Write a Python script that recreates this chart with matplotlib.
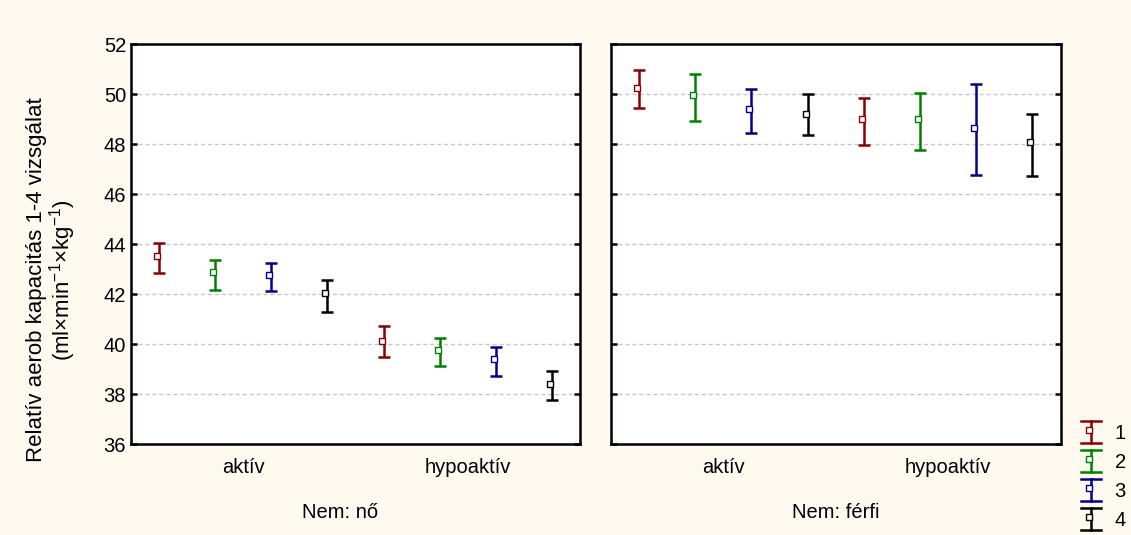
import matplotlib
matplotlib.use("Agg")
import matplotlib.pyplot as plt
from matplotlib.legend_handler import HandlerBase
from matplotlib.lines import Line2D
from matplotlib.transforms import ScaledTranslation

# ---- data ----
groups = ["aktív", "hypoaktív"]
series = ["1", "2", "3", "4"]
colors = ["#8B0000", "#008000", "#00008B", "#000000"]

no_aktiv_mean = [43.51, 42.87, 42.78, 42.05]
no_aktiv_low = [42.83, 42.17, 42.13, 41.29]
no_aktiv_high = [44.05, 43.35, 43.24, 42.55]
no_hypo_mean = [40.13, 39.76, 39.38, 38.42]
no_hypo_low = [39.50, 39.12, 38.73, 37.78]
no_hypo_high = [40.70, 40.26, 39.89, 38.91]

ferfi_aktiv_mean = [50.24, 49.96, 49.39, 49.20]
ferfi_aktiv_low = [49.45, 48.93, 48.44, 48.35]
ferfi_aktiv_high = [50.95, 50.80, 50.20, 50.00]
ferfi_hypo_mean = [49.00, 49.00, 48.63, 48.07]
ferfi_hypo_low = [47.96, 47.75, 46.75, 46.73]
ferfi_hypo_high = [49.83, 50.04, 50.40, 49.19]

yticks = [36, 38, 40, 42, 44, 46, 48, 50, 52]
panel_titles = ["Nem: nő", "Nem: férfi"]
ylabel = "Relatív aerob kapacitás 1-4 vizsgálat\n(ml×min$^{-1}$×kg$^{-1}$)"

plt.rcParams['font.family'] = ['Liberation Sans', 'DejaVu Sans']
plt.rcParams['mathtext.fontset'] = 'custom'
plt.rcParams['mathtext.rm'] = 'Liberation Sans'
plt.rcParams['mathtext.it'] = 'Liberation Sans'

W, H = 1131, 535
fig = plt.figure(figsize=(W / 100, H / 100), dpi=100)
fig.patch.set_facecolor("#FFFAF0")

ax_l = fig.add_axes([131 / W, 1 - 444 / H, 449 / W, 400 / H])
ax_r = fig.add_axes([611 / W, 1 - 444 / H, 449.5 / W, 400 / H])

panels = [
    (ax_l, [(no_aktiv_mean, no_aktiv_low, no_aktiv_high), (no_hypo_mean, no_hypo_low, no_hypo_high)]),
    (ax_r, [(ferfi_aktiv_mean, ferfi_aktiv_low, ferfi_aktiv_high), (ferfi_hypo_mean, ferfi_hypo_low, ferfi_hypo_high)]),
]
group_centers = [1.5, 5.5]
offsets = [-1.5, -0.5, 0.5, 1.5]
FS = 14.5

shift = ScaledTranslation(-0.02, 0, fig.dpi_scale_trans)
for pi, (ax, data) in enumerate(panels):
    ax.set_facecolor("white")
    for si in range(len(series)):
        xs, ms, lo, hi = [], [], [], []
        for gi in range(len(groups)):
            mean, low, high = data[gi]
            xs.append(group_centers[gi] + offsets[si])
            ms.append(mean[si])
            lo.append(mean[si] - low[si])
            hi.append(high[si] - mean[si])
        ax.errorbar(xs, ms, yerr=[lo, hi], fmt='none',
                    ecolor=colors[si], elinewidth=1.8, capsize=4, capthick=1.8, zorder=3)
        ax.plot(xs, ms, 's', markersize=5, markerfacecolor='white',
                markeredgecolor=colors[si], markeredgewidth=1.0, zorder=4,
                transform=ax.transData + shift)
    ax.set_xlim(-0.5, 7.5)
    ax.set_ylim(36, 52)
    ax.set_yticks(yticks)
    ax.set_xticks(group_centers)
    ax.set_xticklabels(groups, fontsize=FS)
    ax.tick_params(axis='x', length=0, pad=10)
    ax.tick_params(axis='y', direction='in', left=True, right=True, length=4, width=1.8, labelsize=FS)
    for g in yticks[1:-1]:
        ax.axhline(g, color='#c8c8c8', lw=1, ls=(0, (3, 2)), zorder=1)
    for sp in ax.spines.values():
        sp.set_linewidth(1.8)
        sp.set_color('black')
    ax.set_xlabel(panel_titles[pi], fontsize=FS, labelpad=19)

ax_l.xaxis.label.set_x(0.465)
ax_r.tick_params(axis='y', labelleft=False)

fig.text(52 / W, 1 - 280 / H, ylabel, rotation=90, ha='center', va='center',
         fontsize=16, multialignment='center', linespacing=1.0)


class HandlerCI(HandlerBase):
    def create_artists(self, legend, orig_handle, xdescent, ydescent,
                       width, height, fontsize, trans):
        c = orig_handle.get_color()
        cx = width / 2 - xdescent
        cy = height / 2 - ydescent
        half = 8.0
        cap = 7.2
        arts = [
            Line2D([cx, cx], [cy - half, cy + half], color=c, lw=1.8),
            Line2D([cx - cap, cx + cap], [cy - half, cy - half], color=c, lw=1.8),
            Line2D([cx - cap, cx + cap], [cy + half, cy + half], color=c, lw=1.8),
            Line2D([cx - 2], [cy + 1.5], marker='s', markersize=5, markerfacecolor='white',
                   markeredgecolor=c, markeredgewidth=1.0, linestyle='none'),
        ]
        for a in arts:
            a.set_transform(trans)
        return arts


proxies = [Line2D([], [], color=c) for c in colors]
fig.legend(handles=proxies, labels=series, loc='lower right',
           bbox_to_anchor=(1140 / W, -9 / H), frameon=False, fontsize=14.5,
           handler_map={Line2D: HandlerCI()}, borderpad=0.2,
           handlelength=1.1, handleheight=1.0, handletextpad=0.6, labelspacing=0.45)

fig.savefig("out.png", dpi=100, facecolor=fig.get_facecolor())
